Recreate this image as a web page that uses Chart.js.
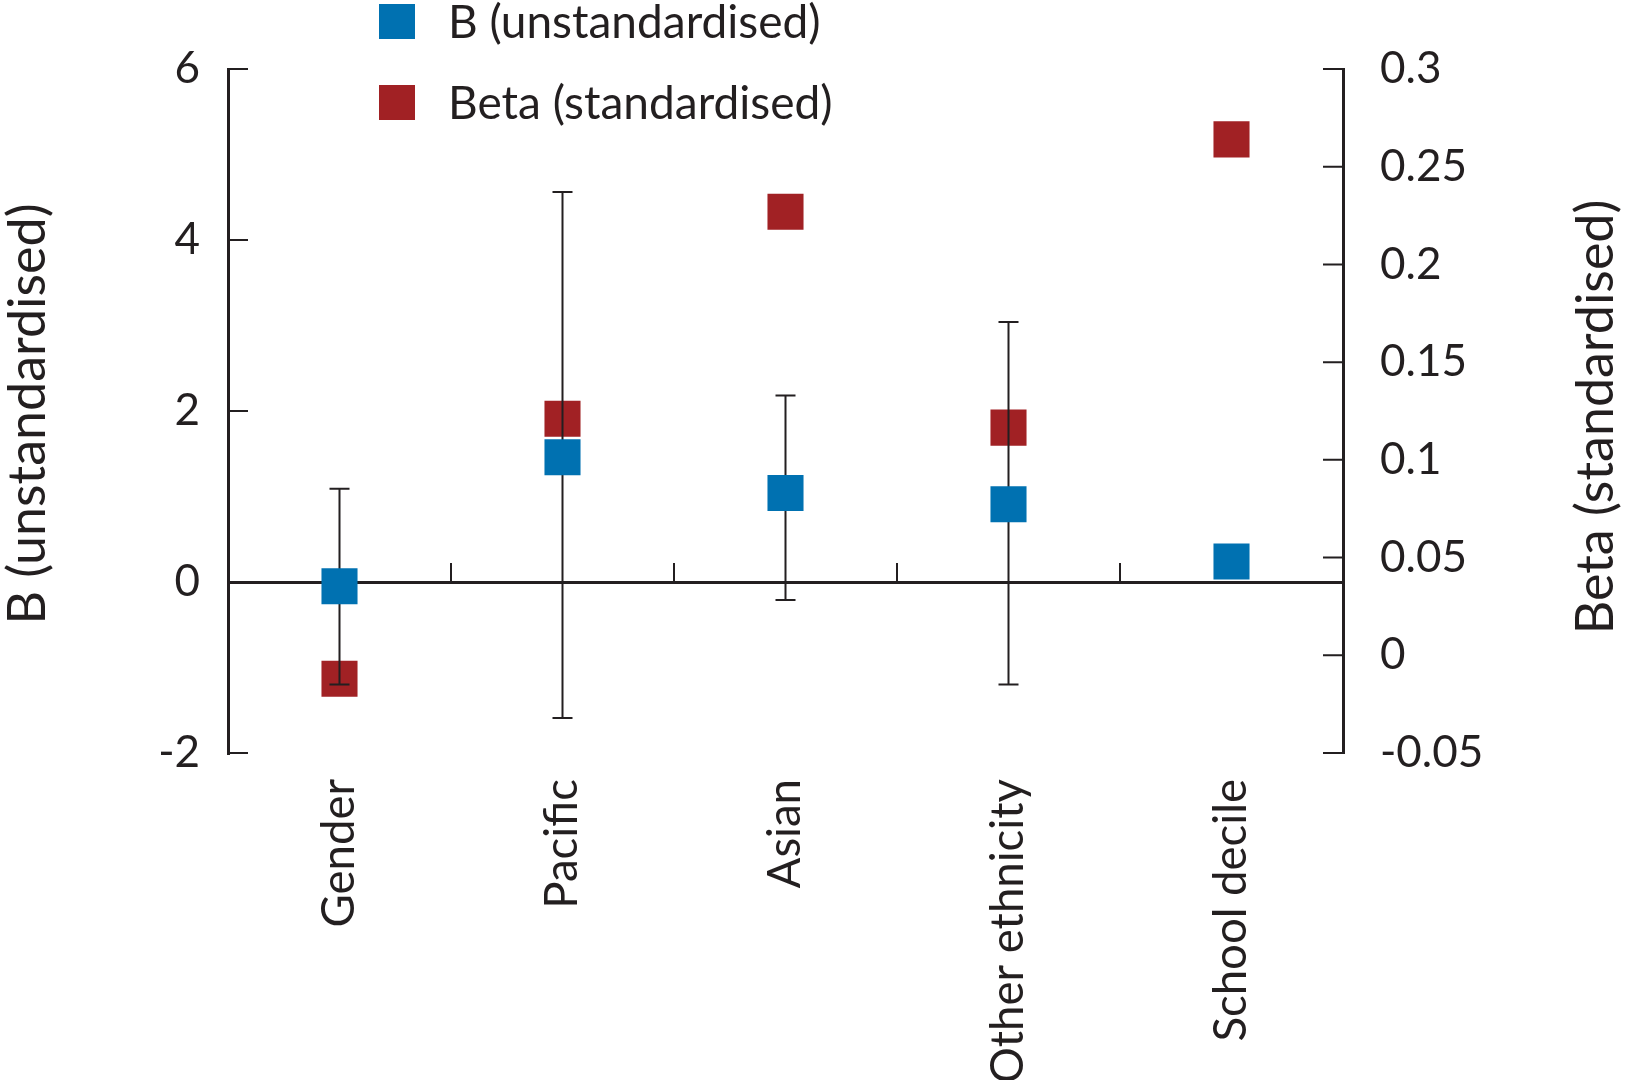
<!DOCTYPE html>
<html>
<head>
<meta charset="utf-8">
<script src="https://cdn.jsdelivr.net/npm/chart.js@4.4.0/dist/chart.umd.min.js"></script>
<style>
  html, body { margin: 0; padding: 0; background: #fff; }
  #wrap { width: 1625px; height: 1080px; }
</style>
</head>
<body>
<div id="wrap"><canvas id="myChart" width="1625" height="1080"></canvas></div>
<script>
// data
const categories = ['Gender', 'Pacific', 'Asian', 'Other ethnicity', 'School decile'];
const bValues = [-0.05, 1.46, 1.04, 0.91, 0.24];
const bLow = [-1.2, -1.59, -0.21, -1.2, null];
const bHigh = [1.09, 4.56, 2.18, 3.04, null];
const betaValues = [-0.012, 0.121, 0.227, 0.1165, 0.264];
const bTicks = [-2, 0, 2, 4, 6];
const betaTicks = [-0.05, 0, 0.05, 0.1, 0.15, 0.2, 0.25, 0.3];

const INK = '#231f20';
const BLUE = '#0071b1';
const RED = '#a12124';
const FONT = 'Lato, "Open Sans", sans-serif';

const decor = {
  id: 'decor',
  afterDatasetDraw(chart, args) {
    // error bars sit above the red squares but below the blue ones
    if (args.index !== 1) return;
    const ctx = chart.ctx, x = chart.scales.x, y = chart.scales.yB;
    ctx.save();
    ctx.strokeStyle = INK;
    ctx.lineWidth = 2;
    categories.forEach((c, i) => {
      if (bLow[i] == null) return;
      const px = x.getPixelForValue(i);
      const y1 = y.getPixelForValue(bLow[i]), y2 = y.getPixelForValue(bHigh[i]);
      ctx.beginPath();
      ctx.moveTo(px, y1); ctx.lineTo(px, y2);
      ctx.moveTo(px - 10, y1); ctx.lineTo(px + 10, y1);
      ctx.moveTo(px - 10, y2); ctx.lineTo(px + 10, y2);
      ctx.stroke();
    });
    ctx.restore();
  },
  afterDraw(chart) {
    const ctx = chart.ctx, area = chart.chartArea;
    const x = chart.scales.x, yB = chart.scales.yB, yBeta = chart.scales.yBeta;
    ctx.save();
    ctx.strokeStyle = INK;
    ctx.lineWidth = 2;
    ctx.beginPath();
    // inward ticks on both value axes
    bTicks.forEach(v => {
      const py = yB.getPixelForValue(v);
      ctx.moveTo(area.left, py); ctx.lineTo(area.left + 20, py);
    });
    betaTicks.forEach(v => {
      const py = yBeta.getPixelForValue(v);
      ctx.moveTo(area.right, py); ctx.lineTo(area.right - 20, py);
    });
    // small ticks between categories on the zero line
    const y0 = yB.getPixelForValue(0);
    for (let i = 1; i < categories.length; i++) {
      const px = (x.getPixelForValue(i - 1) + x.getPixelForValue(i)) / 2;
      ctx.moveTo(px, y0); ctx.lineTo(px, y0 - 19);
    }
    ctx.stroke();

    // axis titles, both reading bottom to top
    ctx.fillStyle = INK;
    ctx.font = '52px ' + FONT;
    ctx.textAlign = 'center';
    ctx.textBaseline = 'middle';
    [[28, 414, 'B (unstandardised)'], [1596, 417, 'Beta (standardised)']].forEach(t => {
      ctx.save();
      ctx.translate(t[0], t[1]);
      ctx.rotate(-Math.PI / 2);
      ctx.fillText(t[2], 0, 0);
      ctx.restore();
    });

    // legend, stacked
    ctx.font = '46px ' + FONT;
    ctx.textAlign = 'left';
    chart.data.datasets.forEach((ds, i) => {
      const cy = 21 + i * 81;
      ctx.fillStyle = ds.backgroundColor;
      ctx.fillRect(379, cy - 17, 36, 35);
      ctx.fillStyle = INK;
      ctx.fillText(ds.label, 448, cy + 2);
    });
    ctx.restore();
  }
};

new Chart(document.getElementById('myChart').getContext('2d'), {
  type: 'line',
  data: {
    labels: categories,
    datasets: [
      { label: 'B (unstandardised)', data: bValues, yAxisID: 'yB',
        backgroundColor: BLUE, borderColor: BLUE, showLine: false,
        pointStyle: 'rect', pointRadius: 25.5, pointBorderWidth: 0, pointBackgroundColor: BLUE },
      { label: 'Beta (standardised)', data: betaValues, yAxisID: 'yBeta',
        backgroundColor: RED, borderColor: RED, showLine: false,
        pointStyle: 'rect', pointRadius: 25.5, pointBorderWidth: 0, pointBackgroundColor: RED }
    ]
  },
  options: {
    responsive: false,
    animation: false,
    events: [],
    layout: { padding: { top: 69, left: 0, right: 0, bottom: 0 } },
    plugins: { legend: { display: false }, tooltip: { enabled: false } },
    scales: {
      x: {
        offset: true,
        grid: { display: false },
        border: { display: false },
        ticks: { color: INK, font: { family: FONT, size: 45.5 }, maxRotation: 90, minRotation: 90, padding: 18 },
        afterFit(s) { s.height = 327; }
      },
      yB: {
        position: 'left',
        min: -2, max: 6,
        afterBuildTicks(s) { s.ticks = bTicks.map(v => ({ value: v })); },
        grid: {
          drawTicks: false,
          color: c => (c.tick && c.tick.value === 0 ? INK : 'rgba(0,0,0,0)'),
          lineWidth: 3
        },
        border: { display: true, color: INK, width: 3 },
        ticks: { color: INK, font: { family: FONT, size: 44 }, padding: 28 },
        afterFit(s) { s.width = 228; }
      },
      yBeta: {
        position: 'right',
        min: -0.05, max: 0.3,
        afterBuildTicks(s) { s.ticks = betaTicks.map(v => ({ value: v })); },
        grid: { display: false, drawTicks: false },
        border: { display: true, color: INK, width: 3 },
        ticks: { color: INK, font: { family: FONT, size: 44 }, padding: 37,
          callback: v => String(Number(v.toFixed(2))) },
        afterFit(s) { s.width = 282; }
      }
    }
  },
  plugins: [decor]
});
</script>
</body>
</html>
